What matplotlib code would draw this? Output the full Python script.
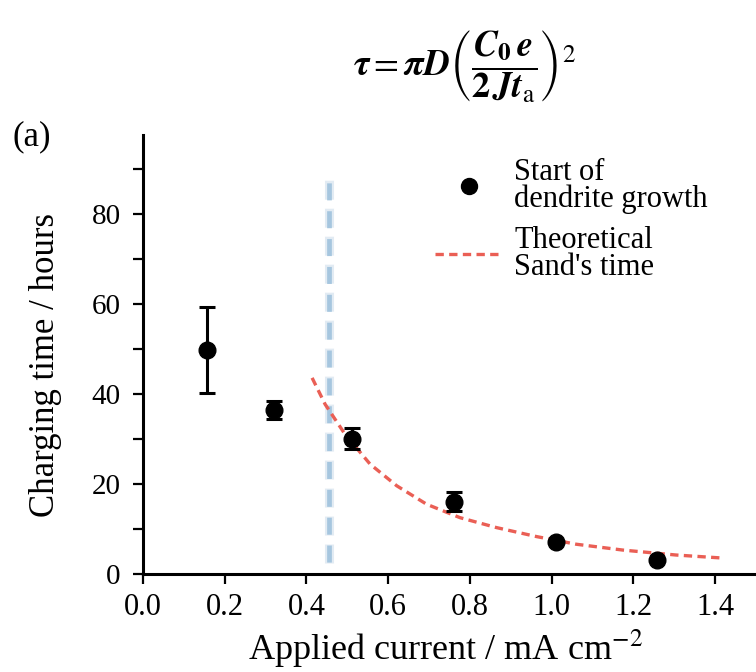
import matplotlib
matplotlib.use("Agg")
import matplotlib.pyplot as plt
from matplotlib.ticker import MultipleLocator
from matplotlib.lines import Line2D

plt.rcParams['font.family'] = ['Liberation Serif', 'DejaVu Serif']
plt.rcParams['mathtext.fontset'] = 'stix'

# measured points: start of dendrite growth
current = [0.156, 0.32, 0.512, 0.761, 1.01, 1.259]
time_h = [49.8, 36.4, 30.1, 16.1, 7.2, 3.1]
err_h = [9.6, 2.0, 2.3, 2.1, 0.0, 0.0]

# theoretical Sand's time curve
sand_x = [0.414, 0.446, 0.495, 0.556, 0.621, 0.694, 0.776, 0.865, 0.963,
          1.06, 1.174, 1.304, 1.422]
sand_y = [43.6, 37.7, 31.0, 24.4, 19.6, 15.5, 12.5, 10.3, 8.3,
          6.6, 5.3, 4.2, 3.5]

# vertical marker line
limit_x = 0.456
limit_y = (2.4, 87.8)

fig = plt.figure(figsize=(7.56, 6.72), dpi=100)
ax = fig.add_axes([0.189, 0.146, 0.811, 0.653])

# blurred light blue dashed line (soft halo + core)
ax.plot([limit_x, limit_x], limit_y, color='#e2ebf3', lw=6.5,
        linestyle=(0, (2.1, 1.0)), solid_capstyle='butt')
ax.plot([limit_x, limit_x], limit_y, color='#a6c6df', lw=3.4,
        linestyle=(5.7, (3.6, 2.3)), solid_capstyle='butt')

ax.plot(sand_x, sand_y, color='#ea5f55', lw=2.4, dashes=(2.5, 1.6))

ax.errorbar(current, time_h, yerr=err_h, fmt='o', color='black',
            markersize=12, elinewidth=2.2, capsize=6, capthick=2.2)

ax.set_xlim(0, 1.5)
ax.set_ylim(0, 97.6)
ax.yaxis.set_major_locator(MultipleLocator(20))
ax.yaxis.set_minor_locator(MultipleLocator(10))
ax.set_xticks([0.0, 0.2, 0.4, 0.6, 0.8, 1.0, 1.2, 1.4])

for s in ['top', 'right']:
    ax.spines[s].set_visible(False)
for s in ['left', 'bottom']:
    ax.spines[s].set_linewidth(2.2)

ax.tick_params(which='both', direction='out', length=7, width=1.6,
               labelsize=21)
ax.tick_params(axis='y', pad=9)
ax.tick_params(axis='x', labelsize=22, pad=7)

ax.set_xlabel('Applied current / mA cm$^{-2}$', fontsize=26)
ax.xaxis.label.set_va('baseline')
ax.xaxis.set_label_coords(0.493, -0.196)
ax.set_ylabel('Charging time / hours', fontsize=25)
ax.yaxis.set_label_coords(-0.132, 0.476)

handles = [
    Line2D([], [], marker='o', ls='none', color='black', markersize=11.5),
    Line2D([], [], color='#ea5f55', lw=2.4, dashes=(2.5, 1.6)),
]
ax.legend(handles, ['Start of\ndendrite growth', 'Theoretical\nSand\'s time'],
          loc='upper left', bbox_to_anchor=(0.547, 0.797),
          bbox_transform=fig.transFigure, frameon=False, fontsize=22,
          handlelength=2.2, handletextpad=0.4, labelspacing=0.4,
          borderpad=0.2)
for t in ax.get_legend().get_texts():
    t.set_linespacing(0.9)

fig.text(0.042, 0.797, '(a)', fontsize=25, ha='center', va='center')
fig.text(0.615, 0.9,
         r'$\mathbfit{\tau} = \mathbfit{\pi D}\left(\dfrac{\mathbfit{C}_\mathbf{0}\,\mathbfit{e}}'
         r'{\mathbf{2}\,\mathbfit{Jt}_\mathrm{a}}\right)^2$',
         fontsize=26, ha='center', va='center')

fig.savefig('out.png', dpi=100)
